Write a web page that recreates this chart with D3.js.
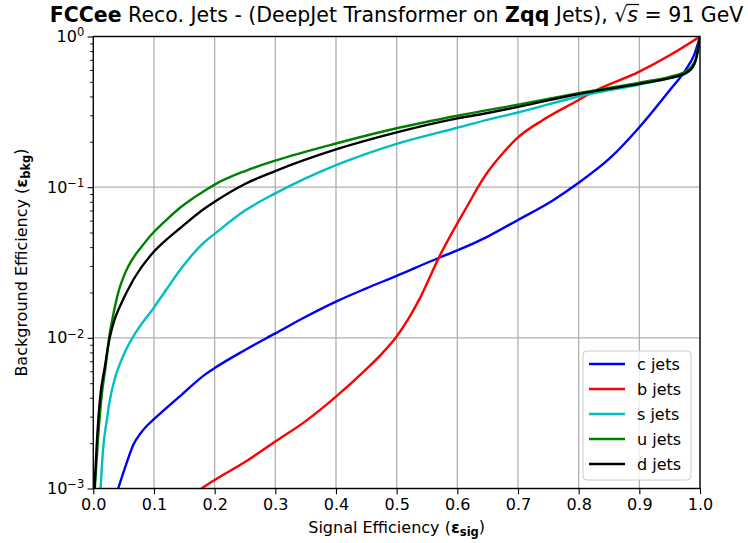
<!DOCTYPE html>
<html><head><meta charset="utf-8">
<script src="https://cdn.jsdelivr.net/npm/d3@7"></script>
<style>
body{margin:0;background:#fff}
svg{display:block}
text{font-family:"DejaVu Sans",sans-serif;fill:#000}
</style>
</head><body>
<svg id="chart" width="748" height="543"></svg>
<script>
// ---------------- data ----------------
const seriesNames  = ["c jets", "b jets", "s jets", "u jets", "d jets"];
const seriesColors = ["#0000ff", "#ff0000", "#00bfbf", "#008000", "#000000"];

const cJetsX = [0.041, 0.055, 0.066, 0.077, 0.088, 0.099, 0.143, 0.184, 0.2, 0.25, 0.3, 0.35, 0.4, 0.45, 0.5, 0.57, 0.6, 0.65, 0.7, 0.758, 0.8, 0.851, 0.9, 0.95, 0.978, 0.99, 1.0];
const cJetsY = [0.001, 0.00148, 0.00195, 0.0023, 0.0026, 0.00286, 0.0041, 0.0057, 0.0063, 0.0083, 0.0107, 0.0138, 0.0174, 0.0213, 0.0258, 0.034, 0.038, 0.047, 0.0606, 0.082, 0.107, 0.155, 0.25, 0.44, 0.615, 0.75, 1.0];

const bJetsX = [0.178, 0.2, 0.25, 0.3, 0.35, 0.4, 0.45, 0.475, 0.5, 0.52, 0.538, 0.571, 0.6, 0.62, 0.634, 0.65, 0.675, 0.7, 0.741, 0.8, 0.824, 0.9, 0.95, 1.0];
const bJetsY = [0.001, 0.00114, 0.0015, 0.00205, 0.0028, 0.00407, 0.0062, 0.0078, 0.0102, 0.0135, 0.0182, 0.035, 0.0575, 0.0794, 0.1, 0.126, 0.168, 0.214, 0.279, 0.379, 0.43, 0.584, 0.75, 1.0];

const sJetsX = [0.012, 0.016, 0.022, 0.028, 0.0357, 0.045, 0.055, 0.071, 0.099, 0.121, 0.143, 0.184, 0.2, 0.25, 0.3, 0.4, 0.5, 0.6, 0.654, 0.7, 0.8, 0.9, 0.95, 0.972, 0.986, 0.994, 1.0];
const sJetsY = [0.001, 0.0018, 0.0028, 0.004, 0.0054, 0.0069, 0.0085, 0.011, 0.0157, 0.0211, 0.0282, 0.0435, 0.049, 0.07, 0.091, 0.14, 0.194, 0.248, 0.283, 0.313, 0.40, 0.48, 0.53, 0.56, 0.61, 0.72, 1.0];

const uJetsX = [0.0025, 0.008, 0.014, 0.02, 0.026, 0.033, 0.038, 0.043, 0.05, 0.058, 0.066, 0.077, 0.099, 0.121, 0.143, 0.184, 0.2, 0.25, 0.3, 0.4, 0.5, 0.6, 0.7, 0.8, 0.9, 0.95, 0.972, 0.986, 0.994, 1.0];
const uJetsY = [0.001, 0.0022, 0.0042, 0.0063, 0.01, 0.0143, 0.0178, 0.0212, 0.0255, 0.03, 0.034, 0.039, 0.05, 0.061, 0.073, 0.095, 0.104, 0.128, 0.15, 0.195, 0.246, 0.298, 0.353, 0.42, 0.494, 0.54, 0.575, 0.63, 0.73, 1.0];

const dJetsX = [0.002, 0.0055, 0.011, 0.019, 0.027, 0.035, 0.044, 0.066, 0.099, 0.121, 0.143, 0.184, 0.2, 0.25, 0.3, 0.4, 0.5, 0.6, 0.654, 0.7, 0.8, 0.9, 0.95, 0.972, 0.986, 0.994, 1.0];
const dJetsY = [0.001, 0.0019, 0.0039, 0.0064, 0.01, 0.0132, 0.0162, 0.0243, 0.037, 0.045, 0.0534, 0.0724, 0.08, 0.105, 0.128, 0.178, 0.231, 0.286, 0.313, 0.341, 0.415, 0.485, 0.53, 0.56, 0.61, 0.72, 1.0];

const xTickValues = [0, 0.1, 0.2, 0.3, 0.4, 0.5, 0.6, 0.7, 0.8, 0.9, 1.0];
const yTickValues = [1e-3, 1e-2, 1e-1, 1];
const yTickExponents = ["\u22123", "\u22122", "\u22121", "0"];

// ---------------- layout ----------------
const svg = d3.select("#chart");
const W = 748, H = 543;
const plot = {left: 93.3, right: 700, top: 36.5, bottom: 488.5};

const x = d3.scaleLinear().domain([0, 1]).range([plot.left, plot.right]);
const y = d3.scaleLog().domain([1e-3, 1]).range([plot.bottom, plot.top]);

const seriesX = [cJetsX, bJetsX, sJetsX, uJetsX, dJetsX];
const seriesY = [cJetsY, bJetsY, sJetsY, uJetsY, dJetsY];
const series = seriesNames.map((name, i) => ({
  name, color: seriesColors[i],
  points: seriesX[i].map((xv, j) => [xv, seriesY[i][j]])
}));

svg.append("rect").attr("width", W).attr("height", H).attr("fill", "#fff");

svg.append("defs").append("clipPath").attr("id", "clip")
  .append("rect").attr("x", plot.left).attr("y", plot.top)
  .attr("width", plot.right - plot.left).attr("height", plot.bottom - plot.top);

// grid
const grid = svg.append("g");
grid.selectAll(".gx").data(xTickValues).join("line")
  .attr("x1", d => x(d)).attr("x2", d => x(d))
  .attr("y1", plot.top).attr("y2", plot.bottom)
  .attr("stroke", "#b0b0b0").attr("stroke-width", 1.3);
grid.selectAll(".gy").data(yTickValues).join("line")
  .attr("y1", d => y(d)).attr("y2", d => y(d))
  .attr("x1", plot.left).attr("x2", plot.right)
  .attr("stroke", "#b0b0b0").attr("stroke-width", 1.3);

// curves
const line = d3.line().x(d => x(d[0])).y(d => y(d[1])).curve(d3.curveMonotoneX);
const lines = svg.append("g").attr("clip-path", "url(#clip)");
series.forEach(s => {
  lines.append("path").attr("d", line(s.points))
    .attr("fill", "none").attr("stroke", s.color).attr("stroke-width", 2.4)
    .attr("stroke-linejoin", "round").attr("stroke-linecap", "butt");
});

// axes
const xAxis = d3.axisBottom(x).tickValues(xTickValues).tickFormat(d3.format(".1f"))
  .tickSizeInner(5.7).tickSizeOuter(0).tickPadding(4);
const gx = svg.append("g").attr("transform", `translate(0,${plot.bottom})`).call(xAxis);
gx.select(".domain").remove();
gx.selectAll("line").attr("stroke", "#000").attr("stroke-width", 1.1);
gx.selectAll("text").attr("font-size", 16).attr("font-family", "DejaVu Sans");

const minorY = [];
for (let e = -3; e < 0; e++) for (let m = 2; m <= 9; m++) minorY.push(m * Math.pow(10, e));
const gyMinor = svg.append("g").attr("transform", `translate(${plot.left},0)`)
  .call(d3.axisLeft(y).tickValues(minorY).tickFormat("").tickSizeInner(3.2).tickSizeOuter(0));
gyMinor.select(".domain").remove();
gyMinor.selectAll("line").attr("stroke", "#000").attr("stroke-width", 0.9);

const gy = svg.append("g").attr("transform", `translate(${plot.left},0)`)
  .call(d3.axisLeft(y).tickValues(yTickValues).tickFormat("").tickSizeInner(5.7).tickSizeOuter(0));
gy.select(".domain").remove();
gy.selectAll("line").attr("stroke", "#000").attr("stroke-width", 1.1);
gy.selectAll(".tick").each(function(d) {
  const t = d3.select(this).append("text").attr("x", -9).attr("dy", "0.32em")
    .attr("text-anchor", "end").attr("font-size", 16);
  t.append("tspan").text("10");
  t.append("tspan").attr("dy", "-0.5em").attr("font-size", 11.5).text(yTickExponents[yTickValues.indexOf(d)]);
});

// frame
svg.append("rect").attr("x", plot.left).attr("y", plot.top)
  .attr("width", plot.right - plot.left).attr("height", plot.bottom - plot.top)
  .attr("fill", "none").attr("stroke", "#000").attr("stroke-width", 1.3);

// axis labels
const xl = svg.append("text").attr("x", (plot.left + plot.right) / 2).attr("y", 533)
  .attr("text-anchor", "middle").attr("font-size", 16);
xl.append("tspan").text("Signal Efficiency (");
xl.append("tspan").attr("font-weight", "bold").text("\u03b5");
xl.append("tspan").attr("font-weight", "bold").attr("font-size", 11.5).attr("dy", "0.25em").text("sig");
xl.append("tspan").attr("dy", "-0.25em").text(")");

const yl = svg.append("text").attr("transform", `translate(27,${(plot.top + plot.bottom) / 2}) rotate(-90)`)
  .attr("text-anchor", "middle").attr("font-size", 16);
yl.append("tspan").text("Background Efficiency (");
yl.append("tspan").attr("font-weight", "bold").text("\u03b5");
yl.append("tspan").attr("font-weight", "bold").attr("font-size", 11.5).attr("dy", "0.25em").text("bkg");
yl.append("tspan").attr("dy", "-0.25em").text(")");

// title
const title = svg.append("text").attr("x", 396.5).attr("y", 21.5)
  .attr("text-anchor", "middle").attr("font-size", 20.5);
title.append("tspan").attr("font-weight", "bold").text("FCCee");
title.append("tspan").text(" Reco. Jets - (DeepJet Transformer on ");
title.append("tspan").attr("font-weight", "bold").text("Zqq");
title.append("tspan").text(" Jets), \u221a");
title.append("tspan").attr("font-style", "italic").text("s");
title.append("tspan").text(" = 91 GeV");
// overline of the square root
{
  const full = title.text();
  const idx = full.indexOf("\u221a");
  const rs = title.node().getExtentOfChar(idx);
  const sx = title.node().getExtentOfChar(idx + 1);
  svg.append("line").attr("x1", rs.x + rs.width - 1).attr("x2", sx.x + sx.width + 1)
    .attr("y1", rs.y + 2).attr("y2", rs.y + 2)
    .attr("stroke", "#000").attr("stroke-width", 1.2);
}

// legend
const leg = svg.append("g").attr("transform", "translate(583,351)");
leg.append("rect").attr("width", 108).attr("height", 129).attr("rx", 4)
  .attr("fill", "#fff").attr("fill-opacity", 0.8).attr("stroke", "#cccccc").attr("stroke-width", 1);
series.forEach((s, i) => {
  const yy = 13 + i * 25;
  leg.append("line").attr("x1", 6).attr("x2", 42).attr("y1", yy).attr("y2", yy)
    .attr("stroke", s.color).attr("stroke-width", 2.4);
  leg.append("text").attr("x", 54).attr("y", yy).attr("dy", "0.35em")
    .attr("font-size", 16).text(s.name);
});
</script>
</body></html>
